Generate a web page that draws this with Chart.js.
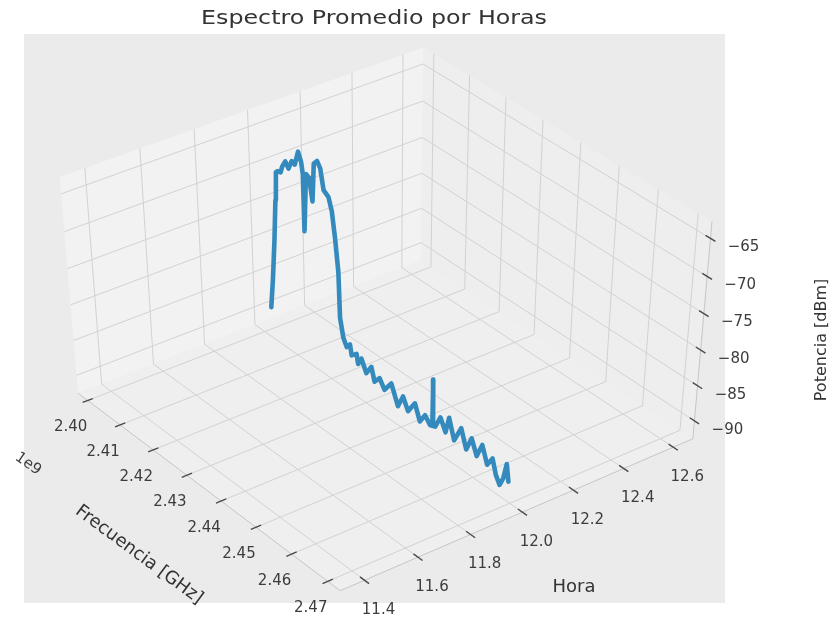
<!DOCTYPE html>
<html>
<head>
<meta charset="utf-8">
<script src="https://cdn.jsdelivr.net/npm/chart.js@4.4.1/dist/chart.umd.min.js"></script>
<style>
  html, body { margin: 0; padding: 0; background: #ffffff; }
  canvas { display: block; }
</style>
</head>
<body>
<canvas id="chart" width="838" height="621" style="width:838px;height:621px"></canvas>
<script>
// ---------------- data ----------------
// Average spectrum for hour 12 (frequency in GHz, power in dBm)
const freqGHz = [
  2.40224, 2.40298, 2.40379, 2.40440, 2.40478, 2.40527, 2.40617, 2.40665, 2.40759, 2.40849,
  2.40944, 2.41033, 2.41133, 2.41216, 2.41258, 2.41274, 2.41347, 2.41435, 2.41521, 2.41576,
  2.41668, 2.41756, 2.41842, 2.41977, 2.42066, 2.42149, 2.42231, 2.42265, 2.42355, 2.42449,
  2.42544, 2.42591, 2.42732, 2.42775, 2.42870, 2.43011, 2.43153, 2.43246, 2.43388, 2.43528,
  2.43720, 2.43908, 2.44051, 2.44192, 2.44383, 2.44524, 2.44666, 2.44810, 2.44870, 2.44878,
  2.44890, 2.44950, 2.45089, 2.45234, 2.45325, 2.45470, 2.45656, 2.45803, 2.45941, 2.46087,
  2.46228, 2.46371, 2.46509, 2.46611, 2.46716, 2.46802, 2.46886, 2.46944
];
const powerDbm = [
  -88.3, -84.1, -78.3, -72.6, -68.7, -68.4, -68.3, -67.4, -66.4, -67.1,
  -65.8, -66.0, -64.0, -65.1, -66.6, -74.2, -66.3, -66.5, -69.4, -64.2,
  -63.6, -64.3, -66.9, -67.4, -69.0, -72.4, -76.7, -83.0, -85.5, -86.5,
  -85.8, -87.2, -86.5, -87.8, -86.7, -88.3, -86.9, -88.7, -87.7, -88.9,
  -87.3, -89.9, -88.0, -89.6, -87.8, -89.9, -88.5, -89.4, -89.3, -82.7,
  -89.2, -89.1, -87.3, -88.9, -86.5, -89.2, -86.8, -89.3, -87.2, -89.2,
  -87.1, -89.4, -88.0, -90.0, -91.0, -89.8, -87.4, -89.7
];
const hourOfDay = 12.0;

const freqTicks  = [2.40, 2.41, 2.42, 2.43, 2.44, 2.45, 2.46, 2.47];
const hourTicks  = [11.4, 11.6, 11.8, 12.0, 12.2, 12.4, 12.6];
const powerTicks = [-90, -85, -80, -75, -70, -65];

const freqLimits  = [2.397, 2.4734];
const hourLimits  = [11.31, 12.68];
const powerLimits = [-92.6, -62.8];

// ---------------- layout ----------------
const W = 838, H = 621;
const axesRect = { left: 24, top: 34, right: 725, bottom: 603 };
// screen placement of the box corners: [X, Y, Z (0..1 box units), px, py]
const frameCorners = [
  [0, 0, 0,  78, 393],
  [1, 0, 0, 340, 591],
  [1, 1, 0, 693, 438],
  [0, 1, 0, 421, 261],
  [0, 0, 1,  60, 177],
  [1, 1, 1, 712, 222],
  [0, 1, 1, 423,  47]
];

// ---------------- 3D camera ----------------
function fitCamera(pts) {
  const rows = [], rhs = [];
  for (const [X, Y, Z, u, v] of pts) {
    rows.push([X, Y, Z, 1, 0, 0, 0, 0, -u * X, -u * Y, -u * Z]); rhs.push(u);
    rows.push([0, 0, 0, 0, X, Y, Z, 1, -v * X, -v * Y, -v * Z]); rhs.push(v);
  }
  const n = 11;
  const M = [];
  for (let i = 0; i < n; i++) M.push(new Array(n + 1).fill(0));
  rows.forEach((r, k) => {
    for (let i = 0; i < n; i++) {
      for (let j = 0; j < n; j++) M[i][j] += r[i] * r[j];
      M[i][n] += r[i] * rhs[k];
    }
  });
  for (let c = 0; c < n; c++) {
    let piv = c;
    for (let r = c + 1; r < n; r++) if (Math.abs(M[r][c]) > Math.abs(M[piv][c])) piv = r;
    [M[c], M[piv]] = [M[piv], M[c]];
    for (let r = 0; r < n; r++) {
      if (r === c) continue;
      const f = M[r][c] / M[c][c];
      for (let j = c; j <= n; j++) M[r][j] -= f * M[c][j];
    }
  }
  return M.map((row, i) => row[n] / row[i]);
}
const cam = fitCamera(frameCorners);

function project(freq, hour, power) {
  const X = (freq - freqLimits[0]) / (freqLimits[1] - freqLimits[0]);
  const Y = (hour - hourLimits[0]) / (hourLimits[1] - hourLimits[0]);
  const Z = (power - powerLimits[0]) / (powerLimits[1] - powerLimits[0]);
  const w = cam[8] * X + cam[9] * Y + cam[10] * Z + 1;
  return [
    (cam[0] * X + cam[1] * Y + cam[2] * Z + cam[3]) / w,
    (cam[4] * X + cam[5] * Y + cam[6] * Z + cam[7]) / w
  ];
}

// ---------------- styling ----------------
const FONT = '"DejaVu Sans", "Liberation Sans", sans-serif';
const colors = {
  axesBg: '#ebebeb',
  paneLeft: '#f2f2f2',
  paneRight: '#eeeeee',
  paneFloor: '#efefef',
  grid: '#d2d2d2',
  edge: '#c6c6c6',
  tick: '#4a4a4a',
  tickLabel: '#3c3c3c',
  label: '#333333',
  line: '#348ABD'
};

function drawText(ctx, text, x, y, opt) {
  ctx.save();
  ctx.translate(x, y);
  if (opt.rot) ctx.rotate(opt.rot * Math.PI / 180);
  if (opt.hscale) ctx.scale(opt.hscale, 1);
  ctx.font = opt.size + 'px ' + FONT;
  ctx.fillStyle = opt.color;
  ctx.textAlign = opt.align || 'center';
  ctx.textBaseline = opt.baseline || 'middle';
  ctx.fillText(text, 0, 0);
  ctx.restore();
}

const frame3d = {
  id: 'frame3d',
  beforeDatasetsDraw(chart) {
    const { ctx } = chart;
    const sx = chart.scales.x, sy = chart.scales.y;
    const P = (f, h, p) => {
      const [u, v] = project(f, h, p);
      return [sx.getPixelForValue(u), sy.getPixelForValue(v)];
    };
    const [f0, f1] = freqLimits, [h0, h1] = hourLimits, [p0, p1] = powerLimits;

    ctx.save();
    ctx.fillStyle = '#ffffff';
    ctx.fillRect(0, 0, W, H);
    ctx.fillStyle = colors.axesBg;
    ctx.fillRect(axesRect.left, axesRect.top, axesRect.right - axesRect.left, axesRect.bottom - axesRect.top);

    const poly = (pts, fill) => {
      ctx.beginPath();
      pts.forEach((q, i) => { const [a, b] = P(...q); i ? ctx.lineTo(a, b) : ctx.moveTo(a, b); });
      ctx.closePath();
      ctx.fillStyle = fill;
      ctx.fill();
    };
    poly([[f0, h0, p0], [f0, h1, p0], [f0, h1, p1], [f0, h0, p1]], colors.paneLeft);
    poly([[f0, h1, p0], [f1, h1, p0], [f1, h1, p1], [f0, h1, p1]], colors.paneRight);
    poly([[f0, h0, p0], [f1, h0, p0], [f1, h1, p0], [f0, h1, p0]], colors.paneFloor);

    const seg = (a, b, color, width) => {
      const [x1, y1] = P(...a), [x2, y2] = P(...b);
      ctx.beginPath();
      ctx.moveTo(x1, y1);
      ctx.lineTo(x2, y2);
      ctx.strokeStyle = color;
      ctx.lineWidth = width;
      ctx.stroke();
    };

    // grid lines on the floor and the two back panes
    freqTicks.forEach(f => {
      seg([f, h0, p0], [f, h1, p0], colors.grid, 1);
      seg([f, h1, p0], [f, h1, p1], colors.grid, 1);
    });
    hourTicks.forEach(h => {
      seg([f0, h, p0], [f1, h, p0], colors.grid, 1);
      seg([f0, h, p0], [f0, h, p1], colors.grid, 1);
    });
    powerTicks.forEach(p => {
      seg([f0, h0, p], [f0, h1, p], colors.grid, 1);
      seg([f0, h1, p], [f1, h1, p], colors.grid, 1);
    });

    // axis lines
    seg([f0, h0, p0], [f1, h0, p0], colors.edge, 1);
    seg([f1, h0, p0], [f1, h1, p0], colors.edge, 1);
    seg([f1, h1, p0], [f1, h1, p1], colors.edge, 1);

    // tick marks and labels
    const dh = 0.014 * (h1 - h0), df = 0.016 * (f1 - f0);
    freqTicks.forEach(f => {
      seg([f, h0 - dh, p0], [f, h0 + dh, p0], colors.tick, 1.4);
      const [x, y] = P(f, h0, p0);
      drawText(ctx, f.toFixed(2), x - 17, y + 27, { size: 15, color: colors.tickLabel });
    });
    hourTicks.forEach(h => {
      seg([f1 - df, h, p0], [f1 + df, h, p0], colors.tick, 1.4);
      const [x, y] = P(f1, h, p0);
      drawText(ctx, h.toFixed(1), x + 14, y + 30, { size: 15, color: colors.tickLabel });
    });
    powerTicks.forEach(p => {
      seg([f1 - df, h1, p], [f1 + df, h1, p], colors.tick, 1.4);
      const [x, y] = P(f1, h1, p);
      drawText(ctx, '\u2212' + Math.abs(p), x + 33, y + 9, { size: 15, color: colors.tickLabel });
    });

    // offset text and axis titles
    drawText(ctx, '1e9', 28, 464, { size: 15, rot: 35, color: colors.tickLabel });
    drawText(ctx, 'Frecuencia [GHz]', 139, 555, { size: 18, rot: 36.5, color: colors.label });
    drawText(ctx, 'Hora', 574, 587, { size: 18, color: colors.label });
    drawText(ctx, 'Potencia [dBm]', 822, 340, { size: 16, rot: -90, color: colors.label });
    drawText(ctx, 'Espectro Promedio por Horas', 374, 24,
      { size: 19, hscale: 1.25, color: colors.label, baseline: 'alphabetic' });
    ctx.restore();
  }
};

const spectrumPoints = freqGHz.map((f, i) => {
  const [u, v] = project(f, hourOfDay, powerDbm[i]);
  return { x: u, y: v };
});

new Chart(document.getElementById('chart'), {
  type: 'scatter',
  data: {
    datasets: [{
      label: 'Hora 12',
      data: spectrumPoints,
      showLine: true,
      borderColor: colors.line,
      backgroundColor: colors.line,
      borderWidth: 4.6,
      borderJoinStyle: 'round',
      borderCapStyle: 'round',
      pointRadius: 0,
      tension: 0,
      fill: false,
      clip: false
    }]
  },
  options: {
    responsive: false,
    animation: false,
    devicePixelRatio: 1,
    layout: { padding: 0 },
    plugins: {
      legend: { display: false },
      tooltip: { enabled: false },
      title: { display: false }
    },
    scales: {
      x: { type: 'linear', display: false, min: 0, max: W },
      y: { type: 'linear', display: false, min: 0, max: H, reverse: true }
    }
  },
  plugins: [frame3d]
});
</script>
</body>
</html>
